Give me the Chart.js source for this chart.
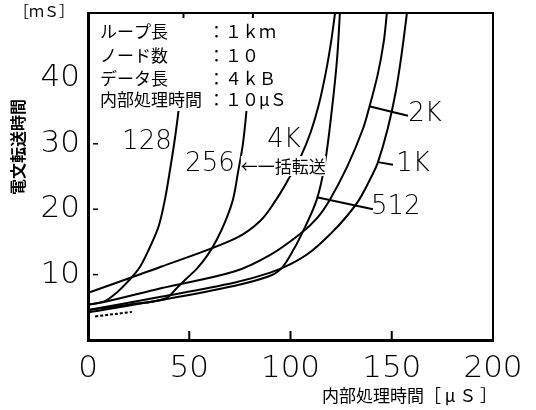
<!DOCTYPE html>
<html>
<head>
<meta charset="utf-8">
<script src="https://cdn.jsdelivr.net/npm/chart.js@4.4.0/dist/chart.umd.min.js"></script>
<style>
  html, body { margin: 0; padding: 0; background: #fff; }
</style>
</head>
<body>
<canvas id="chart" width="536" height="410"></canvas>
<script>
// tick labels
const xTicks = [0, 50, 100, 150, 200];
const yTicks = [10, 20, 30, 40];

// curves, [内部処理時間 µS, 電文転送時間 mS]
const c128 = [[0, 5.4], [8, 5.9], [14, 7.2], [19.3, 8.8], [25.7, 11.2], [31.6, 14.9], [35, 17.5], [38, 21.5], [40.5, 26], [43, 31], [45, 36], [46.3, 42], [47.2, 50]];
const c256 = [[0, 4.6], [20, 5.4], [38, 6.3], [44, 8], [48, 9.2], [54, 11], [59.3, 13.1], [63.7, 15.4], [68, 18.3], [71.6, 21.5], [74, 25.5], [76.5, 30], [78.5, 35.8], [80.2, 42], [81.5, 50]];
const c4k = [[0, 7.2], [36, 11.2], [72.6, 15.5], [85, 18.2], [93, 21.5], [99, 24.6], [105, 28], [110, 31.8], [114, 36], [117.5, 41], [120, 45.5], [122, 50]];
const c2k = [[0, 5.4], [8, 5.8], [36, 7.9], [72.6, 10.5], [90, 13], [104.7, 16.2], [113, 18.6], [119.5, 21.5], [128, 26.5], [135.8, 32.3], [139, 35.7], [143, 40.5], [146, 45.5], [147.6, 50]];
const c1k = [[0, 4.6], [36, 6.6], [72.6, 8.8], [90, 10.3], [100, 11.6], [110, 13.5], [120, 16.3], [128, 19], [134, 21.5], [140, 25], [143.2, 27.2], [148, 32.3], [152, 38], [155, 44], [157.5, 50]];
const c512 = [[0, 4.2], [36, 6.1], [72.6, 8.3], [89, 9.7], [95, 10.8], [100, 13], [106, 16.5], [113, 21.5], [117, 27], [120.5, 35.4], [123, 43], [124.4, 50]];
const cDot = [[3.5, 3.6], [21.7, 4.3]];

// curve labels: text, label point, leader start on curve (data units)
const curveLabels = [
    { text: '128', at: [29.1, 30.3] },
    { text: '256', at: [60.2, 26.9] },
    { text: '4K', at: [96.8, 30.5] },
    { text: '2K', at: [166.4, 34.5], from: [139.3, 35.7], to: [158, 34.3] },
    { text: '1K', at: [160.5, 26.8], from: [143.2, 27.2], to: [150.6, 26.8] },
    { text: '512', at: [152, 20.3], from: [113.6, 21.8], to: [140.7, 20] }
];

const legendRows = [
    ['ループ長', '：１ｋｍ'],
    ['ノード数', '：１０'],
    ['データ長', '：４ｋＢ'],
    ['内部処理時間', '：１０μＳ']
];

const pts = arr => arr.map(p => ({ x: p[0], y: p[1] }));

function curve(arr, dash) {
    return {
        data: pts(arr),
        borderColor: '#000',
        borderWidth: 2,
        borderDash: dash || [],
        pointRadius: 0,
        tension: 0.35,
        fill: false
    };
}

const overlay = {
    id: 'overlay',
    afterDatasetsDraw(chart) {
        const { ctx, chartArea: a, scales: { x, y } } = chart;
        ctx.save();
        ctx.strokeStyle = '#000';
        ctx.fillStyle = '#000';

        // frame top + right
        ctx.lineWidth = 2;
        ctx.beginPath();
        ctx.moveTo(a.left, a.top);
        ctx.lineTo(a.right, a.top);
        ctx.lineTo(a.right, a.bottom);
        ctx.stroke();

        // inner tick marks
        ctx.lineWidth = 2;
        [50, 100, 150].forEach(v => {
            const px = x.getPixelForValue(v);
            ctx.beginPath();
            ctx.moveTo(px, a.bottom);
            ctx.lineTo(px, a.bottom - 9);
            ctx.stroke();
        });
        ctx.lineWidth = 1.5;
        yTicks.forEach(v => {
            const py = y.getPixelForValue(v);
            ctx.beginPath();
            ctx.moveTo(a.left + 5, py);
            ctx.lineTo(a.left + 10, py);
            ctx.stroke();
        });

        // condition box
        ctx.fillStyle = '#fff';
        ctx.fillRect(a.left + 3, a.top + 5, 212, 93);
        ctx.fillStyle = '#000';
        ctx.font = '17px "Noto Sans CJK JP"';
        ctx.textBaseline = 'middle';
        ctx.textAlign = 'left';
        const rowY = [32, 56, 79, 100];
        legendRows.forEach((r, i) => {
            ctx.fillText(r[0], a.left + 12, rowY[i]);
            ctx.fillText(r[1], a.left + 120, rowY[i]);
        });

        // curve labels + leaders
        ctx.font = '300 26px "DejaVu Sans"';
        ctx.textAlign = 'center';
        curveLabels.forEach(l => {
            if (l.from) {
                ctx.lineWidth = 2;
                ctx.beginPath();
                ctx.moveTo(x.getPixelForValue(l.from[0]), y.getPixelForValue(l.from[1]));
                ctx.lineTo(x.getPixelForValue(l.to[0]), y.getPixelForValue(l.to[1]));
                ctx.stroke();
            }
            ctx.fillText(l.text, x.getPixelForValue(l.at[0]), y.getPixelForValue(l.at[1]));
        });

        // 一括転送 note
        const nx = x.getPixelForValue(74.5), ny = y.getPixelForValue(26.6);
        ctx.font = '17px "Noto Sans CJK JP"';
        ctx.textAlign = 'left';
        const w = ctx.measureText('←一括転送').width;
        ctx.fillStyle = '#fff';
        ctx.fillRect(nx + 2, ny - 10, w, 20);
        ctx.fillStyle = '#000';
        ctx.fillText('←一括転送', nx + 2, ny + 1);

        // axis titles
        ctx.font = '15px "Noto Sans CJK JP"';
        ctx.fillText('［ｍＳ］', 14, 11);
        ctx.font = '17px "Noto Sans CJK JP"';
        ctx.fillText('内部処理時間［ μ Ｓ ］', 322, 396);
        ctx.translate(18, 147);
        ctx.rotate(-Math.PI / 2);
        ctx.textAlign = 'center';
        ctx.font = 'bold 16px "Noto Sans CJK JP"';
        ctx.fillText('電文転送時間', 0, 0);
        ctx.restore();
    }
};

new Chart(document.getElementById('chart'), {
    type: 'line',
    data: {
        datasets: [curve(c128), curve(c256), curve(c4k), curve(c2k), curve(c1k), curve(c512), curve(cDot, [3, 2])]
    },
    options: {
        responsive: false,
        devicePixelRatio: 1,
        animation: false,
        layout: { padding: { left: 0, right: 43, top: 13, bottom: 0 } },
        plugins: { legend: { display: false }, tooltip: { enabled: false } },
        scales: {
            x: {
                type: 'linear',
                min: 0,
                max: 200,
                afterFit: s => { s.height = 70; s.paddingLeft = 0; s.paddingRight = 0; },
                ticks: {
                    stepSize: 50,
                    autoSkip: false,
                    maxRotation: 0,
                    padding: 10,
                    color: '#000',
                    font: { family: 'DejaVu Sans', size: 31, weight: 300 },
                    callback: v => xTicks.includes(v) ? String(v) : ''
                },
                grid: { display: false, drawTicks: false },
                border: { display: true, color: '#000', width: 3 }
            },
            y: {
                min: 0,
                max: 50,
                afterFit: s => { s.width = 88; s.paddingTop = 0; s.paddingBottom = 0; },
                ticks: {
                    stepSize: 10,
                    padding: 8,
                    color: '#000',
                    font: { family: 'DejaVu Sans', size: 31, weight: 300 },
                    callback: v => yTicks.includes(v) ? String(v) : ''
                },
                grid: { display: false, drawTicks: false },
                border: { display: true, color: '#000', width: 3 }
            }
        }
    },
    plugins: [overlay]
});
</script>
</body>
</html>
